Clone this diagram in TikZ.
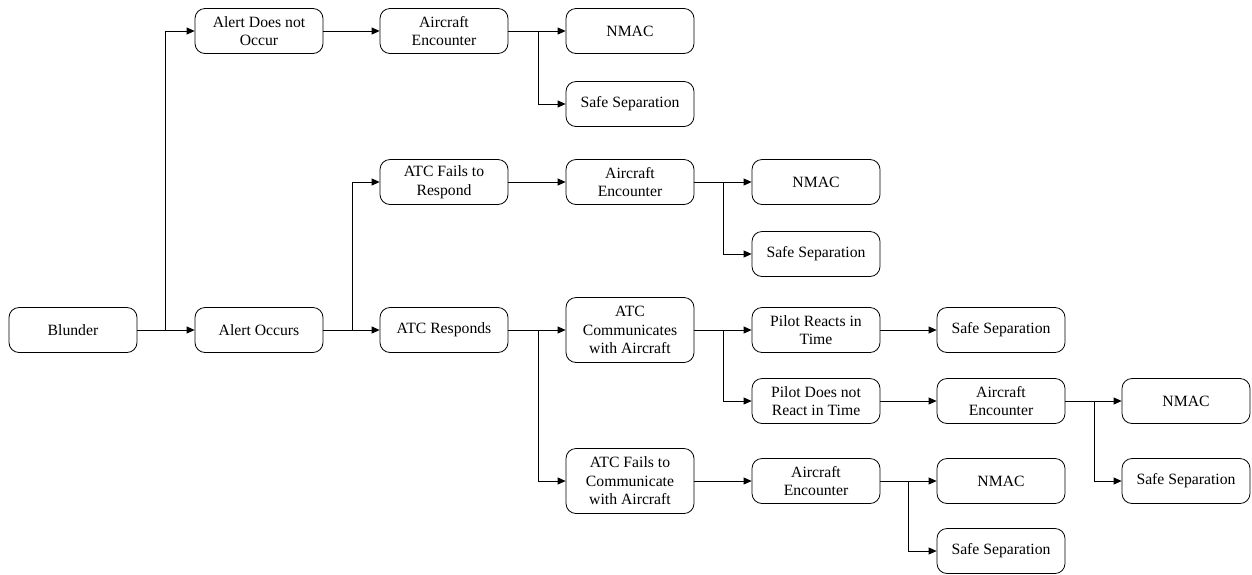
\documentclass[tikz,border=0pt]{standalone}
\usepackage{fontspec}
\setmainfont{Liberation Serif}
\usetikzlibrary{arrows.meta}
\begin{document}
\begin{tikzpicture}[x=1pt,y=-1pt,
  box/.style={draw, line width=0.8pt, rounded corners=10pt, minimum width=128pt, minimum height=45pt, align=center, inner sep=2pt, font=\fontsize{15.7}{18.5}\selectfont},
  tall/.style={box, minimum height=65pt},
  arr/.style={draw, line width=0.8pt, -{Triangle[length=8pt,width=7pt]}},
  ln/.style={draw, line width=0.8pt}]
\useasboundingbox (0,0) rectangle (1252,574);
% nodes
\node[box] (bl) at (73,330) {Blunder};
\node[box] (ao) at (259,330) {Alert Occurs};
\node[box] (ado) at (259,31) {Alert Does not\\Occur};
\node[box] (ae1) at (444,31) {Aircraft\\Encounter};
\node[box] (nm1) at (630,31) {NMAC};
\node[box] (ss1) at (630,104) {Safe Separation};
\node[box] (atcf) at (444,182) {ATC Fails to\\Respond};
\node[box] (atcr) at (444,330) {ATC Responds};
\node[box] (ae2) at (630,182) {Aircraft\\Encounter};
\node[box] (nm2) at (816,182) {NMAC};
\node[box] (ss2) at (816,254) {Safe Separation};
\node[tall] (atcc) at (630,330) {ATC\\Communicates\\with Aircraft};
\node[box] (prt) at (816,330) {Pilot Reacts in\\Time};
\node[box] (ss3) at (1001,330) {Safe Separation};
\node[box] (pdn) at (816,401) {Pilot Does not\\React in Time};
\node[box] (ae3) at (1001,401) {Aircraft\\Encounter};
\node[box] (nm4) at (1186,401) {NMAC};
\node[box] (ss4) at (1186,481) {Safe Separation};
\node[tall] (atcfc) at (630,481) {ATC Fails to\\Communicate\\with Aircraft};
\node[box] (ae5) at (816,481) {Aircraft\\Encounter};
\node[box] (nm5) at (1001,481) {NMAC};
\node[box] (ss5) at (1001,551) {Safe Separation};
% junctions
\coordinate (j1) at (165,330);
\coordinate (j2) at (538,31);
\coordinate (j3) at (352,330);
\coordinate (j4) at (723,182);
\coordinate (j5) at (538,330);
\coordinate (j6) at (723,330);
\coordinate (j7) at (1094,401);
\coordinate (j8) at (908,481);
% connectors
\draw[arr] (bl.east) -- (ao.west);
\draw[arr] (j1) |- (ado.west);
\draw[arr] (ado.east) -- (ae1.west);
\draw[arr] (ae1.east) -- (nm1.west);
\draw[arr] (j2) |- (ss1.west);
\draw[arr] (ao.east) -- (atcr.west);
\draw[arr] (j3) |- (atcf.west);
\draw[arr] (atcf.east) -- (ae2.west);
\draw[arr] (ae2.east) -- (nm2.west);
\draw[arr] (j4) |- (ss2.west);
\draw[arr] (atcr.east) -- (atcc.west);
\draw[arr] (j5) |- (atcfc.west);
\draw[arr] (atcc.east) -- (prt.west);
\draw[arr] (j6) |- (pdn.west);
\draw[arr] (prt.east) -- (ss3.west);
\draw[arr] (pdn.east) -- (ae3.west);
\draw[arr] (ae3.east) -- (nm4.west);
\draw[arr] (j7) |- (ss4.west);
\draw[arr] (atcfc.east) -- (ae5.west);
\draw[arr] (ae5.east) -- (nm5.west);
\draw[arr] (j8) |- (ss5.west);
\end{tikzpicture}
\end{document}
